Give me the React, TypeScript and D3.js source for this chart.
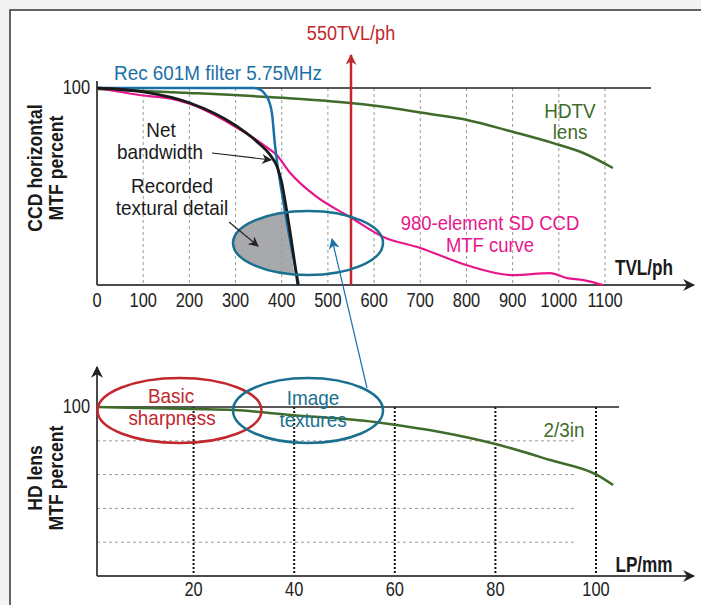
import { useEffect } from 'react';
import * as d3 from 'd3';

// Top chart: CCD horizontal MTF (TVL/ph vs percent)
const tvlTicks = [0, 100, 200, 300, 400, 500, 600, 700, 800, 900, 1000, 1100];
const recFilter = [[0, 100], [340, 100], [355, 99], [365, 96.5], [373, 93], [379, 87], [385, 72], [403, 43], [437, 0]];
const netBandwidth = [[0, 100], [100, 98], [200, 92.5], [300, 81], [350, 72], [375, 66], [390, 60], [400, 52], [407, 43], [435, 0]];
const ccdMtf = [[0, 100], [100, 96.2], [165, 94.3], [200, 92], [295, 81], [367, 70], [389, 66], [418, 57], [476, 44.7], [548, 34.5], [620, 24.4], [700, 18.8], [801, 10], [901, 5], [981, 6], [1018, 3.5], [1053, 2.5], [1096, 0]];
const hdtvLens = [[0, 99.5], [200, 97.5], [400, 95], [548, 92.4], [602, 91], [736, 86.3], [801, 83.8], [901, 77.7], [988, 72], [1053, 67], [1117, 59.4]];
const marker550 = 550;

// Bottom chart: HD lens MTF (LP/mm vs percent)
const lpTicks = [20, 40, 60, 80, 100];
const lpGrid = [20, 40, 60, 80];
const lens23 = [[0.8, 100], [20, 98.8], [28, 98.2], [39.4, 95.3], [56, 91.1], [59.3, 89.8], [69, 85.2], [80, 78.1], [90.9, 68.6], [100.2, 59.8], [103.4, 53.8]];

const FONT = "'Liberation Sans', Arial, sans-serif";
const BLUE = '#1a6fa8';
const TEAL = '#19708f';
const RED = '#c1272d';
const MAGENTA = '#e8168c';
const GREEN = '#3f6b2b';
const AXIS = '#4a4a4a';
const INK = '#1a1a1a';

type Opt = { anchor?: string; size?: number; weight?: string; rot?: number; sx?: number };

export default function App() {
  useEffect(() => {
    document.body.style.margin = '0';
  }, []);

  const W = 701, H = 605;

  const x1 = d3.scaleLinear().domain([0, 1100]).range([97, 605]);
  const y1 = d3.scaleLinear().domain([0, 100]).range([285, 88]);
  const x2 = d3.scaleLinear().domain([0.8, 100]).range([97, 596]);
  const y2 = d3.scaleLinear().domain([0, 100]).range([576, 407]);

  const line1 = d3.line<number[]>().x(d => x1(d[0])).y(d => y1(d[1])).curve(d3.curveMonotoneX);
  const line2 = d3.line<number[]>().x(d => x2(d[0])).y(d => y2(d[1])).curve(d3.curveMonotoneX);

  // region left of net bandwidth curve (clipped by ellipse for the grey fill)
  const leftArea = line1([...netBandwidth, [0, 0]]) + 'Z';

  const ellTop = { cx: 308, cy: 243, rx: 75, ry: 32 };
  const ellRed = { cx: 179.5, cy: 410.5, rx: 82, ry: 32.5 };
  const ellBlue = { cx: 308, cy: 410.5, rx: 75, ry: 32.5 };

  // condensed text: Liberation Sans squeezed horizontally
  const txt = (x: number, y: number, s: string | number, fill: string, o: Opt = {}) => {
    const { anchor = 'middle', size = 21, weight = 'normal', rot = 0, sx = 0.9 } = o;
    return (
      <text transform={`translate(${x},${y}) rotate(${rot}) scale(${sx},1)`} fill={fill} textAnchor={anchor}
        fontSize={size} fontWeight={weight} fontFamily={FONT}>{s}</text>
    );
  };
  const tick = { size: 20.5, sx: 0.8 };
  const bold = { size: 21, weight: 'bold', sx: 0.84 };

  return (
    <svg width={W} height={H} style={{ display: 'block' }}>
      <defs>
        <marker id="ahBlack" viewBox="0 0 10 10" refX="9" refY="5" markerWidth="10" markerHeight="10" markerUnits="userSpaceOnUse" orient="auto">
          <path d="M0,0 L10,5 L0,10 L3,5 Z" fill="#222" />
        </marker>
        <marker id="ahBlue" viewBox="0 0 10 10" refX="9" refY="5" markerWidth="11" markerHeight="11" markerUnits="userSpaceOnUse" orient="auto">
          <path d="M0,0 L10,5 L0,10 L3,5 Z" fill={BLUE} />
        </marker>
        <marker id="ahRed" viewBox="0 0 10 10" refX="9" refY="5" markerWidth="11" markerHeight="11" markerUnits="userSpaceOnUse" orient="auto">
          <path d="M0,0 L10,5 L0,10 L3,5 Z" fill={RED} />
        </marker>
        <marker id="ahAxis" viewBox="0 0 10 10" refX="9" refY="5" markerWidth="12" markerHeight="12" markerUnits="userSpaceOnUse" orient="auto">
          <path d="M0,0 L10,5 L0,10 L3,5 Z" fill="#222" />
        </marker>
        <clipPath id="ellClip">
          <ellipse cx={ellTop.cx} cy={ellTop.cy} rx={ellTop.rx} ry={ellTop.ry} />
        </clipPath>
      </defs>

      <rect x={0} y={0} width={W} height={H} fill="#f3f3f3" />
      <rect x={10} y={10} width={W} height={H} fill="#fff" stroke="#333" strokeWidth={1.5} />

      {/* ---------- Top chart ---------- */}
      <path d={leftArea} fill="#a7a9ac" clipPath="url(#ellClip)" />

      {tvlTicks.filter(t => t > 0).map(t => (
        <line key={t} x1={x1(t)} x2={x1(t)} y1={y1(100)} y2={y1(0)} stroke="#9a9a9a" strokeWidth={1} strokeDasharray="3,3" />
      ))}
      <line x1={x1(0)} x2={651} y1={y1(100)} y2={y1(100)} stroke="#222" strokeWidth={1.5} />
      <line x1={x1(0)} x2={x1(0)} y1={81} y2={y1(0)} stroke={AXIS} strokeWidth={2} />
      <line x1={x1(0)} x2={694} y1={y1(0)} y2={y1(0)} stroke={AXIS} strokeWidth={2} markerEnd="url(#ahAxis)" />
      {tvlTicks.map(t => <g key={t}>{txt(x1(t), 307, t, '#222', tick)}</g>)}
      {txt(90, 94, '100', '#222', { ...tick, anchor: 'end' })}

      <path d={line1(hdtvLens) || ''} fill="none" stroke={GREEN} strokeWidth={2.5} />
      <path d={line1(ccdMtf) || ''} fill="none" stroke={MAGENTA} strokeWidth={2.2} />
      <path d={line1(recFilter) || ''} fill="none" stroke={BLUE} strokeWidth={2.5} />
      <path d={line1(netBandwidth) || ''} fill="none" stroke={INK} strokeWidth={2.8} />

      <line x1={x1(marker550)} x2={x1(marker550)} y1={y1(0)} y2={55} stroke={RED} strokeWidth={2.5} markerEnd="url(#ahRed)" />
      {txt(x1(marker550), 40, '550TVL/ph', RED, { sx: 0.86 })}

      <ellipse cx={ellTop.cx} cy={ellTop.cy} rx={ellTop.rx} ry={ellTop.ry} fill="none" stroke={TEAL} strokeWidth={2.5} />

      {txt(114, 80, 'Rec 601M filter 5.75MHz', BLUE, { anchor: 'start' })}
      {txt(161, 137, 'Net', INK)}
      {txt(160, 159, 'bandwidth', INK)}
      <line x1={212} y1={153} x2={271} y2={160} stroke="#222" strokeWidth={1.2} markerEnd="url(#ahBlack)" />
      {txt(172, 193, 'Recorded', INK)}
      {txt(172, 215, 'textural detail', INK)}
      <line x1={229} y1={222} x2={258} y2={246} stroke="#222" strokeWidth={1.2} markerEnd="url(#ahBlack)" />
      {txt(490, 230, '980-element SD CCD', MAGENTA, { sx: 0.88 })}
      {txt(490, 252, 'MTF curve', MAGENTA, { sx: 0.88 })}
      {txt(570, 118, 'HDTV', GREEN)}
      {txt(570, 139, 'lens', GREEN)}
      {txt(644, 275, 'TVL/ph', INK, { ...bold, size: 22, sx: 0.78 })}

      {txt(42, 168, 'CCD horizontal', INK, { ...bold, rot: -90 })}
      {txt(63, 168, 'MTF percent', INK, { ...bold, rot: -90 })}

      {/* ---------- Bottom chart ---------- */}
      {lpGrid.map(g => (
        <line key={g} x1={x2(0.8)} x2={575} y1={y2(g)} y2={y2(g)} stroke="#9a9a9a" strokeWidth={1} strokeDasharray="3,3" />
      ))}
      {lpTicks.map(t => (
        <line key={t} x1={x2(t)} x2={x2(t)} y1={y2(100)} y2={y2(0)} stroke="#111" strokeWidth={2} strokeDasharray="2,2" />
      ))}
      <line x1={x2(0.8)} x2={619} y1={y2(100)} y2={y2(100)} stroke="#222" strokeWidth={1.5} />
      <line x1={x2(0.8)} x2={x2(0.8)} y1={y2(0)} y2={367} stroke={AXIS} strokeWidth={2} markerEnd="url(#ahAxis)" />
      <line x1={x2(0.8)} x2={694} y1={y2(0)} y2={y2(0)} stroke={AXIS} strokeWidth={2} markerEnd="url(#ahAxis)" />
      {lpTicks.map(t => <g key={t}>{txt(x2(t), 596, t, '#222', tick)}</g>)}
      {txt(90, 413, '100', '#222', { ...tick, anchor: 'end' })}

      <path d={line2(lens23) || ''} fill="none" stroke={GREEN} strokeWidth={2.5} />
      {txt(564, 437, '2/3in', GREEN)}
      {txt(644, 572, 'LP/mm', INK, { ...bold, size: 22, sx: 0.78 })}

      <ellipse cx={ellRed.cx} cy={ellRed.cy} rx={ellRed.rx} ry={ellRed.ry} fill="none" stroke={RED} strokeWidth={2.5} />
      <ellipse cx={ellBlue.cx} cy={ellBlue.cy} rx={ellBlue.rx} ry={ellBlue.ry} fill="none" stroke={TEAL} strokeWidth={2.5} />
      {txt(171, 403, 'Basic', RED)}
      {txt(172, 425, 'sharpness', RED)}
      {txt(313, 405, 'Image', TEAL)}
      {txt(313, 427, 'textures', TEAL)}

      <line x1={367} y1={388} x2={332} y2={239} stroke={BLUE} strokeWidth={1.2} markerEnd="url(#ahBlue)" />

      {txt(42, 478, 'HD lens', INK, { ...bold, rot: -90 })}
      {txt(63, 478, 'MTF percent', INK, { ...bold, rot: -90 })}
    </svg>
  );
}
